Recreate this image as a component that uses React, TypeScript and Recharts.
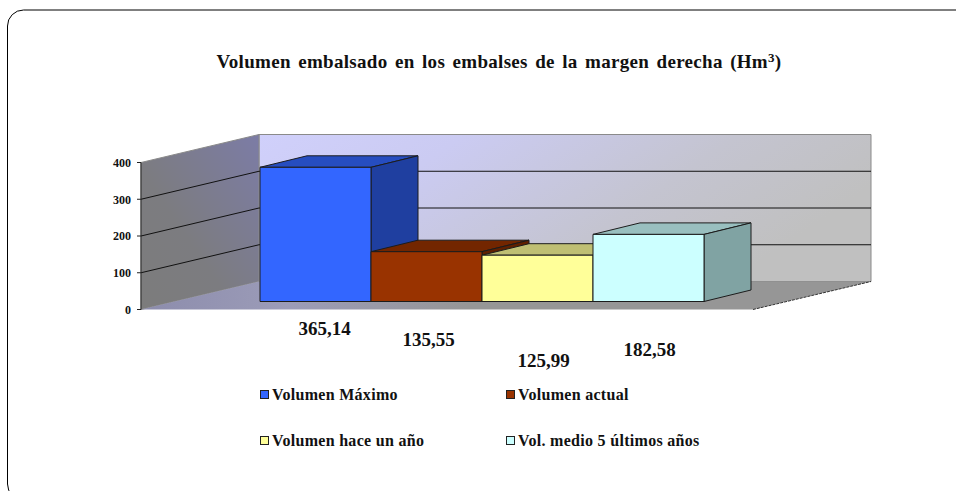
import { Bar, BarChart, CartesianGrid, LabelList, Legend, XAxis, YAxis } from "recharts";

// Hm3 per series
const seriesNames = ["Volumen Máximo", "Volumen actual", "Volumen hace un año", "Vol. medio 5 últimos años"];
const seriesKeys = ["maximo", "actual", "haceUnAno", "medio5"];
const seriesValues = [365.14, 135.55, 125.99, 182.58];
const yTicks = [0, 100, 200, 300, 400];

const fronts = ["#3366ff", "#993300", "#ffff99", "#ccffff"];
const tops = ["#264dc0", "#732600", "#bfbf73", "#99bfbf"];
const sides = ["#1f3fa0", "#602000", "#a0a060", "#80a3a3"];

// the data labels were dragged by hand in the original
const labelShiftX = [9, 2, 6, 1];
const labelBaseY = [335, 346, 367, 356];

const legendX = [260, 506, 260, 506];
const legendY = [390, 390, 436, 436];

const tableRow: Record<string, string | number> = { name: "" };
seriesKeys.forEach((k, i) => {
  tableRow[k] = seriesValues[i];
});
const table = [tableRow];

const W = 956;
const H = 491;
const plotL = 141;
const plotR = 753;
const plotT = 162.5;
const plotB = 309.5;
// depth of the fake 3D box
const wallDX = 118;
const wallDY = 28;
const barDX = 47;
const barDY = 11.5;
const barLift = 8;

const serif = "'Liberation Serif', 'Times New Roman', serif";

function Bar3D(props: any) {
  const { x, y, width, height, index } = props;
  const i = props.seriesIndex ?? index;
  const top = y - barLift;
  const bottom = y + height - barLift;
  const right = x + width;
  return (
    <g stroke="#1c1c1c" strokeWidth={1} strokeLinejoin="round">
      <polygon fill={tops[i]} points={`${x},${top} ${right},${top} ${right + barDX},${top - barDY} ${x + barDX},${top - barDY}`} />
      <polygon fill={sides[i]} points={`${right},${top} ${right + barDX},${top - barDY} ${right + barDX},${bottom - barDY} ${right},${bottom}`} />
      <rect x={x} y={top} width={width} height={bottom - top} fill={fronts[i]} />
    </g>
  );
}

function WallLine(props: any) {
  const { x1, y1, index } = props;
  // the 0 and 400 lines are the edges of the walls
  if (y1 <= plotT + 1 || y1 >= plotB - 1) return <g key={props.key ?? index} />;
  const xb = x1 + wallDX;
  const yb = y1 - wallDY;
  return (
    <g key={props.key ?? index} stroke="#111" strokeWidth={1} fill="none">
      <line x1={x1} y1={y1} x2={xb} y2={yb} />
      <line x1={xb} y1={yb} x2={plotR + wallDX} y2={yb} />
    </g>
  );
}

function DataLabel(props: any) {
  const { x, width, value, i } = props;
  return (
    <text x={x + width / 2 + labelShiftX[i]} y={labelBaseY[i]} textAnchor="middle" fontFamily={serif} fontWeight="bold" fontSize={19} fill="#111">
      {Number(value).toFixed(2).replace(".", ",")}
    </text>
  );
}

function LegendBlock(props: any) {
  const payload = props.payload ?? [];
  return (
    <div style={{ position: "absolute", left: 0, top: 0, width: W, height: H, pointerEvents: "none" }}>
      {payload.map((p: any, i: number) => (
        <div key={p.value} style={{ position: "absolute", left: legendX[i], top: legendY[i] }}>
          <span style={{ position: "absolute", left: 0, top: 0, width: 7, height: 7, background: p.color, border: "1px solid #222" }} />
          <span
            style={{
              position: "absolute",
              left: 12,
              top: -3,
              fontFamily: serif,
              fontWeight: "bold",
              fontSize: 16,
              letterSpacing: 0.3,
              lineHeight: "16px",
              whiteSpace: "nowrap",
              color: "#111",
            }}
          >
            {p.value}
          </span>
        </div>
      ))}
    </div>
  );
}

export default function App() {
  return (
    <div style={{ position: "absolute", left: 0, top: 0, width: W, height: H, overflow: "hidden", background: "#fff" }}>
      <BarChart
        width={W}
        height={H}
        data={table}
        barGap={0}
        barCategoryGap={0}
        margin={{ top: plotT, right: W - plotR, bottom: H - plotB, left: plotL - 60 }}
      >
        <defs>
          <linearGradient id="backWall" x1="0" y1="0" x2="1" y2="0.35">
            <stop offset="0" stopColor="#d0d0fb" />
            <stop offset="0.3" stopColor="#cbcbf2" />
            <stop offset="0.7" stopColor="#c4c4d0" />
            <stop offset="1" stopColor="#c0c0c0" />
          </linearGradient>
          <linearGradient id="sideWall" x1="0" y1="1" x2="1" y2="0">
            <stop offset="0" stopColor="#7c7c7c" />
            <stop offset="0.4" stopColor="#7c7c80" />
            <stop offset="1" stopColor="#7c7ca6" />
          </linearGradient>
          <linearGradient id="floor" x1="0" y1="0" x2="1" y2="0">
            <stop offset="0" stopColor="#8c8cac" />
            <stop offset="0.2" stopColor="#9c9cb8" />
            <stop offset="0.45" stopColor="#969696" />
            <stop offset="1" stopColor="#969696" />
          </linearGradient>
        </defs>
        <rect x={7.5} y={10} width={1100} height={490} rx={16} fill="#fff" stroke="#000" strokeWidth={1} />
        <text x={499} y={68} textAnchor="middle" fontFamily={serif} fontWeight="bold" fontSize={19} letterSpacing={0.3} wordSpacing={2.4} fill="#111">
          Volumen embalsado en los embalses de la margen derecha (Hm
          <tspan fontSize={13} dy={-6}>3</tspan>
          <tspan dy={6}>)</tspan>
        </text>
        <polygon
          points={`${plotL + wallDX},${plotT - wallDY} ${plotR + wallDX},${plotT - wallDY} ${plotR + wallDX},${plotB - wallDY} ${plotL + wallDX},${plotB - wallDY}`}
          fill="url(#backWall)"
          stroke="#8a8a8a"
        />
        <polygon
          points={`${plotL},${plotT} ${plotL + wallDX},${plotT - wallDY} ${plotL + wallDX},${plotB - wallDY} ${plotL},${plotB}`}
          fill="url(#sideWall)"
          stroke="#8a8a8a"
        />
        <polygon
          points={`${plotL},${plotB} ${plotR},${plotB} ${plotR + wallDX},${plotB - wallDY} ${plotL + wallDX},${plotB - wallDY}`}
          fill="url(#floor)"
        />
        <line x1={plotR} y1={plotB} x2={plotR + wallDX} y2={plotB - wallDY} stroke="#333" strokeDasharray="3 1" />
        <CartesianGrid vertical={false} horizontal={WallLine} zIndex={1} />
        <XAxis
          dataKey="name"
          tick={false}
          height={0}
          padding={{ left: wallDX + 1, right: barDX + 1 }}
          axisLine={{ stroke: "#222", strokeWidth: 2 }}
          tickLine={false}
        />
        <YAxis
          width={60}
          domain={[0, 400]}
          ticks={yTicks}
          interval={0}
          tickSize={4}
          tickMargin={6}
          axisLine={{ stroke: "#222" }}
          tickLine={{ stroke: "#222" }}
          tick={{ fontFamily: serif, fontWeight: "bold", fontSize: 12, fill: "#111" }}
        />
        {seriesKeys.map((k, i) => (
          <Bar
            key={k}
            dataKey={k}
            name={seriesNames[i]}
            fill={fronts[i]}
            isAnimationActive={false}
            shape={(p: any) => <Bar3D {...p} seriesIndex={i} />}
          >
            <LabelList dataKey={k} content={(p: any) => <DataLabel {...p} i={i} />} />
          </Bar>
        ))}
        <Legend
          layout="horizontal"
          verticalAlign="middle"
          itemSorter={null}
          wrapperStyle={{ left: 0, top: 0, width: W, height: H, pointerEvents: "none" }}
          content={(p: any) => <LegendBlock {...p} />}
        />
      </BarChart>
    </div>
  );
}
